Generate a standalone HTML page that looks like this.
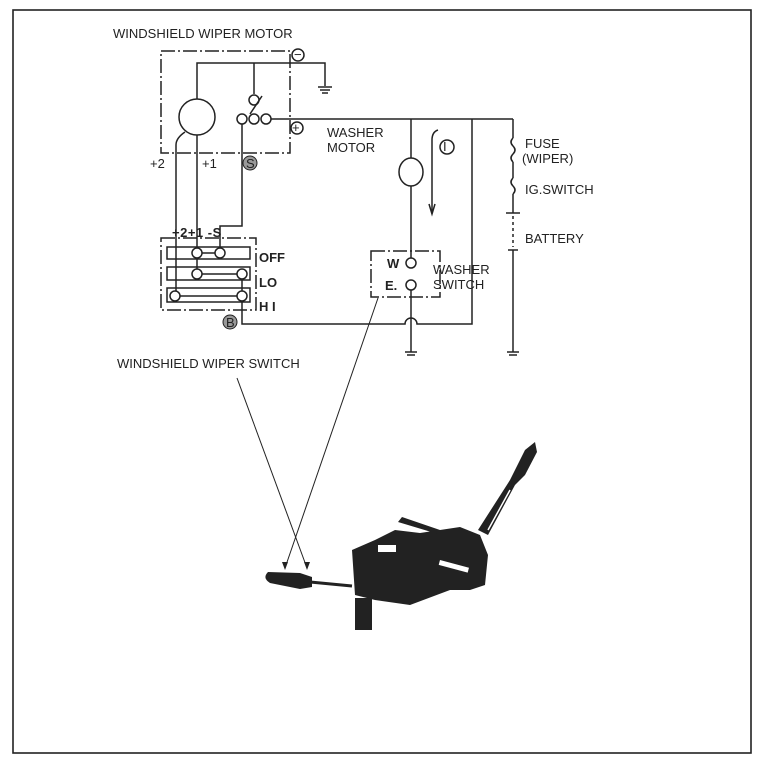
<!DOCTYPE html>
<html><head><meta charset="utf-8"><style>
html,body{margin:0;padding:0;background:#fff;width:764px;height:772px;overflow:hidden}
svg{display:block}
text{font-family:"Liberation Sans",sans-serif;fill:#222;font-size:13px}
</style></head><body>
<svg width="764" height="772" viewBox="0 0 764 772">
<rect x="13" y="10" width="738" height="743" fill="none" stroke="#222" stroke-width="1.6"/>
<g fill="none" stroke="#222" stroke-width="1.5">
<rect x="161" y="51" width="129" height="102" stroke-dasharray="14,3,2,3"/>
<polyline points="197,99 197,63 325,63 325,86"/>
<line x1="318" y1="87" x2="332" y2="87"/><line x1="320" y1="90" x2="330" y2="90"/><line x1="322" y1="93" x2="328" y2="93"/>
<circle cx="298" cy="55" r="6"/><circle cx="297" cy="128" r="6"/>
<circle cx="197" cy="117" r="18"/>
<line x1="254" y1="63" x2="254" y2="94"/>
<circle cx="254" cy="100" r="5"/><circle cx="242" cy="119" r="5"/><circle cx="254" cy="119" r="5"/><circle cx="266" cy="119" r="5"/>
<line x1="250" y1="114" x2="262" y2="96"/>
<line x1="271" y1="119" x2="513" y2="119"/>
<path d="M176,291 L176,145 Q176,138 185,132"/>
<line x1="197" y1="135" x2="197" y2="274"/>
<polyline points="242,124 242,226 220,226 220,253"/>
<rect x="161" y="238" width="95" height="72" stroke-dasharray="14,3,2,3"/>
<rect x="167" y="247" width="83" height="12"/>
<rect x="167" y="267" width="83" height="13"/>
<rect x="167" y="288" width="83" height="14"/>
<line x1="197" y1="253" x2="220" y2="253"/><line x1="197" y1="274" x2="242" y2="274"/><line x1="175" y1="296" x2="242" y2="296"/>
<circle cx="197" cy="253" r="5" fill="#fff"/><circle cx="220" cy="253" r="5" fill="#fff"/>
<circle cx="197" cy="274" r="5" fill="#fff"/><circle cx="242" cy="274" r="5" fill="#fff"/>
<circle cx="175" cy="296" r="5" fill="#fff"/><circle cx="242" cy="296" r="5" fill="#fff"/>
<line x1="242" y1="279" x2="242" y2="291"/>
<path d="M242,301 L242,324 L405,324 A6,6 0 0 1 417,324 L472,324 L472,119"/>
<line x1="411" y1="119" x2="411" y2="258"/>
<ellipse cx="411" cy="172" rx="12" ry="14" fill="#fff"/>
<circle cx="411" cy="263" r="5"/><circle cx="411" cy="285" r="5"/>
<line x1="411" y1="290" x2="411" y2="352"/>
<line x1="405" y1="352" x2="417" y2="352"/><line x1="407" y1="355" x2="415" y2="355"/>
<rect x="371" y="251" width="69" height="46" stroke-dasharray="14,3,2,3"/>
<path d="M432,212 L432,140 Q432,132 438,130"/>
<path d="M429,204 L432,214 L435,204"/>
<circle cx="447" cy="147" r="7"/>
<line x1="513" y1="119" x2="513" y2="138"/>
<path d="M513,138 q-4,4 0,8 q4,4 0,8 q-4,4 0,8"/>
<line x1="513" y1="162" x2="513" y2="178"/>
<path d="M513,178 q-4,4 0,8 q4,4 0,8"/>
<line x1="513" y1="194" x2="513" y2="213"/>
<line x1="506" y1="213" x2="520" y2="213"/><line x1="508" y1="250" x2="518" y2="250"/>
<line x1="513" y1="216" x2="513" y2="247" stroke-dasharray="3,3"/>
<line x1="513" y1="250" x2="513" y2="352"/>
<line x1="507" y1="352" x2="519" y2="352"/><line x1="509" y1="355" x2="517" y2="355"/>
<line x1="237" y1="378" x2="307" y2="568" stroke-width="1"/>
<line x1="378" y1="298" x2="285" y2="568" stroke-width="1"/>
</g>
<g fill="#222" stroke="none">
<text x="113" y="38" font-size="13.5">WINDSHIELD WIPER MOTOR</text>
<text x="294" y="59" font-size="10">−</text><text x="292" y="132" font-size="11">+</text>
<text x="150" y="168">+2</text><text x="202" y="168">+1</text>
<circle cx="250" cy="163" r="7" fill="#999" stroke="#222" stroke-width="1"/><text x="246" y="168" font-size="11">S</text>
<text x="172" y="237" font-weight="bold" font-size="12.5" letter-spacing="0.5">+2+1 -S</text>
<text x="259" y="262" font-weight="bold" font-size="12">OFF</text>
<text x="259" y="287" font-weight="bold" font-size="12">LO</text>
<text x="259" y="311" font-weight="bold" font-size="12">H I</text>
<circle cx="230" cy="322" r="7" fill="#999" stroke="#222" stroke-width="1"/><text x="226" y="327" font-size="11">B</text>
<text x="327" y="137">WASHER</text><text x="327" y="152">MOTOR</text>
<text x="443" y="151" font-size="10">I</text>
<text x="387" y="268" font-size="10" font-weight="bold">W</text>
<text x="385" y="290" font-size="10" font-weight="bold">E.</text>
<text x="433" y="274" font-size="12">WASHER</text><text x="433" y="289" font-size="12">SWITCH</text>
<text x="525" y="148">FUSE</text><text x="522" y="163">(WIPER)</text>
<text x="525" y="194">IG.SWITCH</text><text x="525" y="243">BATTERY</text>
<text x="117" y="368">WINDSHIELD WIPER SWITCH</text>
<path d="M282,562 L285,570 L288,562 Z"/><path d="M304,562 L307,570 L310,562 Z"/>
<path d="M268,572 Q262,578 270,583 L300,589 L312,587 L312,577 L300,573 Z"/>
<line x1="310" y1="582" x2="352" y2="586" stroke="#222" stroke-width="3"/>
<path d="M352,550 L375,540 L395,530 L420,533 L460,527 L480,535 L488,555 L485,585 L470,590 L450,590 L410,605 L375,600 L355,595 Z"/>
<path d="M355,598 L372,598 L372,630 L355,630 Z"/>
<path d="M398,522 L402,517 L440,530 L438,534 Z"/>
<path d="M478,530 L510,480 L515,470 L525,450 L535,442 L537,452 L525,475 L515,485 L488,535 Z"/>
<rect x="378" y="545" width="18" height="7" fill="#fff"/>
<rect x="440" y="560" width="30" height="5" fill="#fff" transform="rotate(15 440 560)"/>
<line x1="488" y1="530" x2="510" y2="490" stroke="#fff" stroke-width="1.5"/>
</g>
</svg>
</body></html>
